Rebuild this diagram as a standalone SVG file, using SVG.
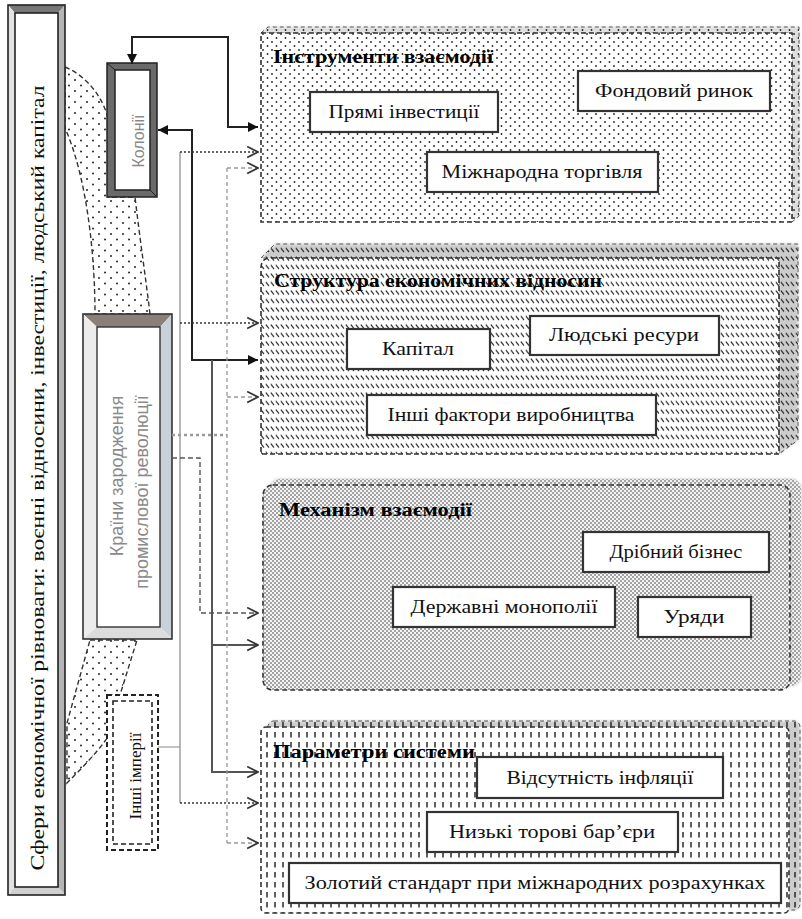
<svg xmlns="http://www.w3.org/2000/svg" width="802" height="919" viewBox="0 0 802 919">
<defs>
<pattern id="pDots" width="9" height="8" patternUnits="userSpaceOnUse">
<circle cx="2" cy="2" r="0.9" fill="#222"/>
<circle cx="6.5" cy="6" r="0.9" fill="#222"/>
</pattern>
<pattern id="pStip" width="12" height="11" patternUnits="userSpaceOnUse">
<circle cx="3" cy="3" r="1" fill="#222"/>
<circle cx="9" cy="8.5" r="1" fill="#222"/>
</pattern>
<pattern id="pHatch" width="5" height="8.5" patternUnits="userSpaceOnUse">
<line x1="0.8" y1="1.5" x2="4" y2="5.5" stroke="#1a1a1a" stroke-width="1.1"/>
</pattern>
<pattern id="pDense" width="4" height="4" patternUnits="userSpaceOnUse">
<rect width="4" height="4" fill="#f4f4f4"/>
<circle cx="1" cy="1" r="0.8" fill="#3a3a3a"/>
<circle cx="3" cy="3" r="0.8" fill="#3a3a3a"/>
</pattern>
<pattern id="pVert" width="8" height="10" patternUnits="userSpaceOnUse">
<line x1="3" y1="2" x2="3" y2="7.5" stroke="#1a1a1a" stroke-width="1.4"/>
</pattern>
<marker id="aFill" viewBox="0 0 10 10" refX="10" refY="5" markerWidth="11" markerHeight="10" markerUnits="userSpaceOnUse" orient="auto-start-reverse">
<path d="M0,0 L10,5 L0,10 Z" fill="#111"/>
</marker>
<marker id="aOpen" viewBox="0 0 12 12" refX="11" refY="6" markerWidth="13" markerHeight="13" markerUnits="userSpaceOnUse" orient="auto">
<path d="M1,1 L11,6 L1,11" fill="none" stroke="#333" stroke-width="1.6"/>
</marker>
<filter id="sh" x="-5%" y="-5%" width="115%" height="115%">
<feGaussianBlur stdDeviation="1.5"/>
</filter>
</defs>
<style>
.box{fill:#fff;stroke:#333;stroke-width:2.2}
.bt{font-family:"Liberation Serif","DejaVu Serif",serif;font-size:19px;fill:#111;text-anchor:middle}
.ttl{font-family:"Liberation Serif","DejaVu Serif",serif;font-weight:bold;font-size:18px;fill:#000}
.pedge{stroke:#333;stroke-width:1.6;stroke-dasharray:5 3}
.ext{stroke:#555;stroke-width:1;stroke-dasharray:4 3}
.sans{font-family:"Liberation Sans",Arial,sans-serif;fill:#8a8a8a}
.solid{fill:none;stroke:#222;stroke-width:2}
.solid2{fill:none;stroke:#555;stroke-width:2}
.dot{fill:none;stroke:#333;stroke-width:1.6;stroke-dasharray:2 2}
.thin{fill:none;stroke:#888;stroke-width:1.2}
.dash{fill:none;stroke:#555;stroke-width:1.4;stroke-dasharray:5 3}
.dashl{fill:none;stroke:#999;stroke-width:1.3;stroke-dasharray:4 3}
</style>
<rect width="802" height="919" fill="#fff"/>

<!-- stippled crescent regions -->
<g id="band">
<path d="M65,67 C85,75 102,95 108,118 L108,197 L135,197 C140,240 146,280 150,314 L95,314 C95,260 88,180 65,128 Z" fill="url(#pStip)" stroke="#333" stroke-width="1.4" stroke-dasharray="5 3"/>
<path d="M90,640 L137,640 L120,695 L108,695 L108,737 C95,755 80,770 67,783 L67,723 Z" fill="url(#pStip)" stroke="#333" stroke-width="1.4" stroke-dasharray="5 3"/>
</g>

<!-- main vertical box -->
<g id="main">
<polygon points="8,5 65,5 58,13 15,13" fill="#777"/>
<polygon points="8,5 15,13 15,887 8,895" fill="#e2e2e2"/>
<polygon points="65,5 65,895 58,887 58,13" fill="#b5b5b5"/>
<polygon points="8,895 15,887 58,887 65,895" fill="#d0d0d0"/>
<rect x="8" y="5" width="57" height="890" fill="none" stroke="#222" stroke-width="1.6"/>
<rect x="15" y="13" width="43" height="874" fill="#fff" stroke="#222" stroke-width="1.6"/>
<text transform="translate(44,478) rotate(-90)" font-family="Liberation Serif, DejaVu Serif, serif" font-size="19" fill="#111" text-anchor="middle" textLength="785" lengthAdjust="spacingAndGlyphs">Сфери економічної рівноваги: воєнні відносини, інвестиції, людський капітал</text>
</g>

<!-- Колонії -->
<g id="colonies">
<rect x="107" y="63" width="50" height="134" fill="#6a6a6a" stroke="#222" stroke-width="1.5"/>
<rect x="115" y="70" width="35" height="120" fill="#fff" stroke="#222" stroke-width="1.5"/>
<line x1="107" y1="63" x2="115" y2="70" stroke="#222" stroke-width="1"/>
<line x1="157" y1="197" x2="150" y2="190" stroke="#222" stroke-width="1"/>
<text class="sans" transform="translate(144,141) rotate(-90)" font-size="16" text-anchor="middle">Колонії</text>
</g>

<!-- Країни зародження промислової революції -->
<g id="origin">
<polygon points="83,314 172,314 160,327 97,327" fill="#8a8078"/>
<polygon points="83,314 97,327 97,627 83,639" fill="#ececec"/>
<polygon points="172,314 172,639 160,627 160,327" fill="#c9d1d8"/>
<polygon points="83,639 97,627 160,627 172,639" fill="#dcdcdc"/>
<rect x="83" y="314" width="89" height="325" fill="none" stroke="#333" stroke-width="1.6"/>
<rect x="97" y="327" width="63" height="300" fill="#fff" stroke="#333" stroke-width="1.4"/>
<text class="sans" transform="translate(123,476) rotate(-90)" font-size="18" text-anchor="middle">Країни зародження</text>
<text class="sans" transform="translate(148,492) rotate(-90)" font-size="18" text-anchor="middle">промислової революції</text>
</g>

<!-- Інші імперії -->
<g id="empires">
<rect x="107" y="695" width="51" height="155" fill="#fff" stroke="#222" stroke-width="2" stroke-dasharray="5 3"/>
<rect x="113" y="701" width="39" height="143" fill="#fff" stroke="#222" stroke-width="1.6" stroke-dasharray="5 3"/>
<text transform="translate(141,776) rotate(-90)" font-family="Liberation Serif, DejaVu Serif, serif" font-size="17" fill="#111" text-anchor="middle">Інші імперії</text>
</g>

<!-- connectors -->
<g id="connectors">
<path class="solid" d="M132,64 V37 H228 V127 H258" marker-start="url(#aFill)" marker-end="url(#aFill)"/>
<path class="solid" d="M158,130 H192 V360 H258" marker-start="url(#aFill)" marker-end="url(#aFill)"/>
<path class="solid2" d="M212,360 V772 H258" marker-end="url(#aOpen)"/>
<path class="solid2" d="M212,645 H258" marker-end="url(#aOpen)"/>
<path class="thin" d="M158,747 H180 M180,152 V803"/>
<path class="dot" d="M180,152 H258" marker-end="url(#aOpen)"/>
<path class="dot" d="M180,323 H258" marker-end="url(#aOpen)"/>
<path class="dot" d="M180,803 H258" marker-end="url(#aOpen)"/>
<path d="M172,435 H227" fill="none" stroke="#9a9a9a" stroke-width="2.6" stroke-dasharray="3 3"/>
<path class="dashl" d="M227,168 V843"/>
<path class="dashl" d="M227,168 H258" marker-end="url(#aOpen)"/>
<path class="dashl" d="M227,397 H258" marker-end="url(#aOpen)"/>
<path class="dashl" d="M227,843 H258" marker-end="url(#aOpen)"/>
<path class="dash" d="M172,458 H200 V613 H258" marker-end="url(#aOpen)"/>
</g>

<!-- Panel 1 -->
<g id="panel1">
<polygon points="261,33 268,27 799,27 799,216 792,222 792,33" fill="#ddd" filter="url(#sh)"/>
<polygon points="261,33 268,27 799,27 799,216 792,222 792,33" fill="url(#pDots)" class="ext"/>
<rect x="261" y="33" width="531" height="189" fill="#fff"/>
<rect x="261" y="33" width="531" height="189" fill="url(#pDots)" class="pedge"/>
<text class="ttl" x="273" y="63" textLength="220" lengthAdjust="spacingAndGlyphs">Інструменти взаємодії</text>
<g id="n-direct"><rect class="box" x="310" y="92" width="188" height="40"/><text class="bt" x="404" y="118" textLength="151" lengthAdjust="spacingAndGlyphs">Прямі інвестиції</text></g>
<g id="n-stock"><rect class="box" x="578" y="71" width="192" height="40"/><text class="bt" x="674" y="97" textLength="158" lengthAdjust="spacingAndGlyphs">Фондовий ринок</text></g>
<g id="n-trade"><rect class="box" x="427" y="152" width="231" height="40"/><text class="bt" x="542" y="178" textLength="201" lengthAdjust="spacingAndGlyphs">Міжнародна торгівля</text></g>
</g>

<!-- Panel 2 -->
<g id="panel2">
<polygon points="261,258 275,244 798,244 798,440 779,454 779,258" fill="#ccc" filter="url(#sh)"/>
<polygon points="261,258 275,244 798,244 798,440 779,454 779,258" fill="url(#pHatch)" class="ext"/>
<path d="M271,258 H779 V454 H261 V268 Q261,258 271,258 Z" fill="#fff"/>
<path d="M271,258 H779 V454 H261 V268 Q261,258 271,258 Z" fill="url(#pHatch)" class="pedge"/>
<text class="ttl" x="274" y="287" textLength="328" lengthAdjust="spacingAndGlyphs">Структура економічних відносин</text>
<g id="n-capital"><rect class="box" x="347" y="329" width="143" height="40"/><text class="bt" x="418" y="355" textLength="72" lengthAdjust="spacingAndGlyphs">Капітал</text></g>
<g id="n-human"><rect class="box" x="530" y="316" width="189" height="39"/><text class="bt" x="624" y="341" textLength="150" lengthAdjust="spacingAndGlyphs">Людські ресури</text></g>
<g id="n-factors"><rect class="box" x="367" y="395" width="289" height="40"/><text class="bt" x="511" y="421" textLength="247" lengthAdjust="spacingAndGlyphs">Інші фактори виробництва</text></g>
</g>

<!-- Panel 3 -->
<g id="panel3">
<rect x="270" y="479" width="531" height="207" rx="10" fill="#bbb" filter="url(#sh)"/>
<rect x="270" y="479" width="531" height="207" rx="10" fill="url(#pDense)" opacity="0.9"/>
<rect x="263" y="485" width="527" height="205" rx="10" fill="url(#pDense)" class="pedge"/>
<text class="ttl" x="279" y="516" textLength="193" lengthAdjust="spacingAndGlyphs">Механізм взаємодії</text>
<g id="n-small"><rect class="box" x="583" y="532" width="186" height="40"/><text class="bt" x="676" y="558" textLength="133" lengthAdjust="spacingAndGlyphs">Дрібний бізнес</text></g>
<g id="n-monop"><rect class="box" x="393" y="587" width="222" height="40"/><text class="bt" x="504" y="613" textLength="187" lengthAdjust="spacingAndGlyphs">Державні монополії</text></g>
<g id="n-gov"><rect class="box" x="638" y="597" width="113" height="40"/><text class="bt" x="694" y="623" textLength="61" lengthAdjust="spacingAndGlyphs">Уряди</text></g>
</g>

<!-- Panel 4 -->
<g id="panel4">
<rect x="268" y="721" width="532" height="189" rx="6" fill="#ccc" filter="url(#sh)"/>
<rect x="268" y="721" width="532" height="189" rx="6" fill="url(#pVert)" class="ext"/>
<rect x="261" y="727" width="528" height="186" rx="5" fill="#fff"/>
<rect x="261" y="727" width="528" height="186" rx="5" fill="url(#pVert)" class="pedge"/>
<text class="ttl" x="273" y="758" textLength="202" lengthAdjust="spacingAndGlyphs">Параметри системи</text>
<g id="n-infl"><rect class="box" x="477" y="757" width="246" height="41"/><text class="bt" x="600" y="784" textLength="187" lengthAdjust="spacingAndGlyphs">Відсутність інфляції</text></g>
<g id="n-barr"><rect class="box" x="427" y="812" width="251" height="40"/><text class="bt" x="552" y="838" textLength="206" lengthAdjust="spacingAndGlyphs">Низькі торові бар’єри</text></g>
<g id="n-gold"><rect class="box" x="289" y="863" width="492" height="40"/><text class="bt" x="535" y="889" textLength="461" lengthAdjust="spacingAndGlyphs">Золотий стандарт при міжнародних розрахунках</text></g>
</g>
</svg>
